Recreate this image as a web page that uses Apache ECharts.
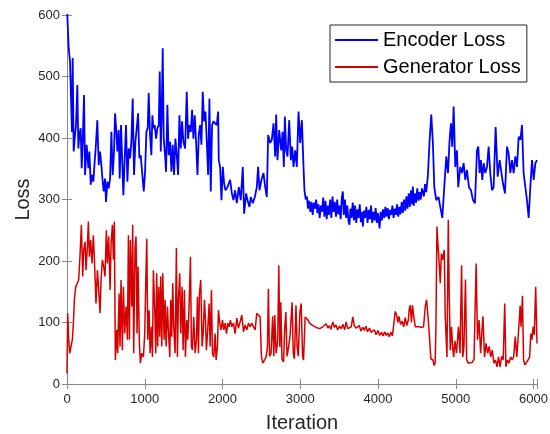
<!DOCTYPE html>
<html><head><meta charset="utf-8">
<script src="https://cdn.jsdelivr.net/npm/echarts@6/dist/echarts.min.js"></script>
<style>html,body{margin:0;padding:0;background:#fff}#c{width:550px;height:434px}</style>
</head><body><div id="c"></div>
<script>
const seriesNames = ['Encoder Loss', 'Generator Loss'];
const xTickValues = [0, 1000, 2000, 3000, 4000, 5000, 6000];
const yTickValues = [0, 100, 200, 300, 400, 500, 600];

// [iteration, loss]
const encoderLoss = [
[0,640],[4,600],[22,546],[39,524],[52,464],[64,410],[73,530],[86,378],[103,405],[116,421],[133,486],[146,383],[159,405],[176,416],[189,351],[202,394],[219,470],[232,340],[253,389],[275,351],[288,378],[305,324],[322,340],[339,329],[356,362],[369,383],[390,429],[408,356],[425,378],[442,356],[459,329],[472,313],[489,334],[502,296],[519,329],[536,318],[554,334],[571,410],[588,340],[605,378],[618,440],[635,410],[648,378],[665,413],[678,334],[695,421],[712,356],[725,307],[742,367],[759,421],[777,329],[794,383],[811,367],[828,394],[845,464],[862,340],[880,394],[897,416],[914,440],[931,367],[948,372],[966,345],[987,313],[1004,345],[1021,410],[1038,416],[1051,473],[1068,405],[1085,372],[1098,437],[1111,416],[1128,421],[1146,399],[1163,416],[1180,421],[1193,508],[1206,378],[1218,437],[1231,546],[1244,399],[1261,372],[1274,345],[1291,454],[1308,372],[1326,394],[1343,345],[1360,389],[1377,340],[1394,399],[1412,372],[1429,340],[1446,437],[1463,383],[1480,427],[1497,394],[1519,383],[1540,475],[1557,399],[1574,421],[1592,410],[1609,446],[1626,399],[1643,437],[1660,394],[1678,340],[1695,405],[1712,421],[1729,389],[1746,475],[1763,427],[1781,443],[1798,394],[1815,340],[1832,464],[1849,313],[1866,421],[1883,427],[1905,427],[1926,421],[1944,443],[1952,364],[1969,353],[1987,299],[2004,353],[2021,326],[2038,315],[2064,320],[2098,332],[2120,310],[2141,299],[2162,315],[2184,294],[2210,320],[2235,299],[2261,353],[2278,277],[2304,310],[2321,299],[2347,288],[2364,304],[2390,294],[2416,304],[2441,320],[2458,353],[2476,315],[2501,332],[2527,343],[2549,320],[2570,304],[2587,405],[2613,392],[2634,397],[2656,424],[2677,370],[2690,438],[2707,364],[2729,413],[2755,380],[2772,410],[2789,353],[2802,435],[2819,380],[2836,370],[2858,429],[2879,364],[2896,386],[2913,353],[2935,380],[2956,353],[2978,443],[2999,392],[3021,429],[3042,353],
[3054,315],[3070,300],[3085,305],[3100,285],[3115,298],[3130,280],[3145,296],[3160,275],[3175,295],[3190,285],[3205,300],[3220,278],[3235,292],[3250,270],[3265,290],[3280,280],[3295,303],[3310,272],[3325,298],[3340,268],[3355,290],[3370,275],[3385,300],[3400,270],[3415,305],[3430,280],[3445,296],[3460,272],[3475,300],[3490,276],[3505,290],[3520,268],[3535,304],[3548,313],[3560,275],[3575,300],[3590,270],[3605,290],[3620,265],[3633,259],[3645,285],[3660,270],[3675,295],[3690,266],[3705,290],[3720,262],[3735,284],[3750,270],[3765,292],[3780,263],[3795,280],[3805,256],[3820,282],[3835,270],[3850,288],[3865,262],[3880,283],[3895,268],[3910,290],[3925,262],[3940,280],[3955,266],[3970,286],[3985,262],[4000,278],[4020,253],[4035,280],[4050,266],[4065,284],[4080,270],[4095,288],[4110,272],[4125,286],[4140,268],[4155,283],[4170,275],[4185,290],[4200,270],[4215,285],[4230,275],[4245,292],[4260,272],[4275,288],[4290,276],[4305,296],[4320,278],[4335,300],[4350,282],[4365,305],[4380,285],[4395,310],[4410,288],[4425,315],[4440,292],[4449,321],[4460,290],[4475,310],[4490,295],[4505,318],[4520,298],[4535,312],[4550,300],[4565,318],[4577,315],[4590,305],[4605,325],[4620,312],[4635,330],[4642,340],
[4664,397],[4685,438],[4706,392],[4724,320],[4749,299],[4779,304],[4801,288],[4827,270],[4852,320],[4878,370],[4900,343],[4921,397],[4938,424],[4955,386],[4973,451],[4994,353],[5015,380],[5032,320],[5058,353],[5080,343],[5101,359],[5123,332],[5144,348],[5170,320],[5196,315],[5221,299],[5247,294],[5273,380],[5290,386],[5307,343],[5324,364],[5341,332],[5359,359],[5380,343],[5402,353],[5423,386],[5444,343],[5466,315],[5487,320],[5513,418],[5539,337],[5565,364],[5582,348],[5607,326],[5633,310],[5659,386],[5680,375],[5702,343],[5723,364],[5745,343],[5766,370],[5788,353],[5809,402],[5831,397],[5852,421],[5873,343],[5895,320],[5916,299],[5938,270],[5959,320],[5981,364],[6002,332],[6024,359],[6045,364]
];

const generatorLoss = [
[0,17],[9,115],[22,72],[35,50],[52,61],[69,72],[82,99],[95,137],[112,158],[133,161],[150,169],[168,210],[185,259],[202,175],[215,218],[232,231],[245,185],[262,223],[275,264],[288,207],[305,234],[322,196],[339,242],[356,191],[373,131],[391,185],[408,153],[425,115],[438,169],[455,202],[472,191],[489,175],[506,250],[519,196],[536,240],[554,153],[567,229],[584,259],[597,202],[609,264],[622,39],[640,88],[652,50],[670,147],[682,61],[695,169],[712,55],[725,158],[742,82],[760,126],[777,72],[790,242],[803,72],[815,234],[833,126],[845,259],[858,50],[875,223],[888,240],[901,82],[914,191],[931,66],[944,34],[961,50],[983,44],[1000,82],[1013,164],[1026,236],[1039,72],[1056,120],[1069,50],[1086,93],[1099,44],[1111,185],[1129,120],[1142,50],[1154,180],[1167,61],[1180,158],[1193,77],[1206,175],[1219,61],[1232,180],[1249,72],[1262,137],[1275,61],[1292,126],[1304,88],[1322,44],[1334,137],[1347,77],[1360,164],[1373,93],[1390,50],[1407,221],[1420,44],[1433,137],[1450,180],[1463,82],[1480,158],[1493,55],[1510,153],[1523,44],[1540,104],[1553,72],[1570,126],[1588,207],[1600,61],[1613,55],[1630,109],[1648,50],[1665,72],[1678,142],[1691,50],[1703,147],[1720,169],[1738,61],[1751,82],[1768,137],[1781,104],[1793,55],[1810,88],[1828,131],[1841,61],[1858,153],[1871,50],[1888,44],[1905,82],[1918,39],[1935,61],[1948,120],[1965,99],[1982,88],[2000,104],[2017,88],[2034,99],[2051,82],[2068,99],[2085,93],[2102,104],[2120,93],[2141,99],[2162,82],[2184,107],[2205,91],[2227,101],[2248,112],[2270,85],[2291,96],[2313,88],[2334,99],[2355,93],[2377,99],[2398,93],[2420,88],[2441,115],[2463,118],[2484,109],[2501,44],[2518,34],[2540,39],[2561,44],[2578,60],[2590,155],[2605,45],[2625,50],[2645,110],[2660,45],[2672,112],[2690,50],[2710,70],[2724,193],[2738,60],[2750,133],[2765,40],[2785,36],[2800,90],[2815,117],[2830,45],[2850,60],[2870,80],[2895,133],[2910,50],[2925,41],[2945,128],[2960,60],[2975,45],[2995,117],[3012,131],[3030,45],[3042,39],[3063,109],[3080,112],[3100,104],[3120,99],[3140,101],[3162,95],[3185,98],[3205,92],[3230,94],[3250,90],[3269,87],[3290,93],[3310,90],[3333,98],[3355,91],[3375,95],[3395,89],[3419,101],[3440,92],[3460,96],[3480,88],[3505,94],[3525,90],[3550,97],[3570,88],[3590,101],[3610,90],[3630,87],[3655,93],[3676,109],[3695,95],[3715,91],[3740,88],[3760,95],[3780,86],[3805,92],[3825,87],[3845,94],[3865,85],[3890,91],[3910,84],[3934,85],[3955,88],[3975,80],[4000,87],[4020,79],[4045,84],[4065,78],[4085,85],[4105,79],[4125,83],[4145,77],[4165,84],[4185,78],[4205,80],[4222,118],[4240,112],[4255,100],[4270,110],[4290,97],[4310,102],[4330,93],[4350,108],[4370,95],[4390,104],[4402,122],[4415,128],[4430,100],[4444,128],[4460,110],[4480,93],[4500,95],[4530,93],[4560,92],[4586,93],[4608,126],[4625,137],[4638,137],[4655,90],[4664,72],[4680,41],[4706,39],[4723,30],[4735,34],[4745,93],[4758,256],[4770,229],[4785,200],[4801,164],[4815,212],[4830,202],[4852,218],[4865,109],[4887,44],[4904,267],[4917,137],[4930,55],[4945,93],[4960,60],[4973,44],[4990,70],[5010,50],[5035,93],[5055,50],[5075,193],[5090,44],[5105,60],[5125,170],[5140,40],[5160,34],[5185,36],[5210,35],[5235,40],[5262,196],[5280,72],[5300,104],[5320,50],[5335,82],[5350,110],[5370,44],[5390,66],[5410,50],[5430,61],[5450,44],[5470,55],[5490,34],[5510,39],[5530,28],[5550,44],[5570,28],[5590,45],[5610,39],[5630,131],[5645,28],[5665,39],[5685,34],[5705,44],[5725,39],[5745,44],[5765,77],[5785,44],[5805,80],[5828,127],[5840,93],[5858,143],[5872,39],[5890,31],[5910,34],[5930,39],[5950,44],[5965,82],[5980,72],[5995,93],[6010,80],[6028,158],[6045,66]
];

const axisGray = '#8a8a8a';
const textGray = '#262626';
const font = 'Liberation Sans, Arial, Helvetica, sans-serif';

const chart = echarts.init(document.getElementById('c'), null, {renderer: 'canvas'});
chart.setOption({
  animation: false,
  backgroundColor: '#fff',
  grid: {left: 67, right: 13, top: 15, bottom: 50, containLabel: false, outerBoundsMode: 'none'},
  legend: {
    data: seriesNames,
    orient: 'vertical',
    left: 330, top: 25,
    padding: [5, 6, 5, 5],
    itemGap: 7,
    icon: 'rect',
    itemWidth: 43, itemHeight: 2,
    borderColor: '#262626', borderWidth: 1,
    backgroundColor: '#fff',
    textStyle: {fontSize: 20, color: '#000', fontFamily: font, lineHeight: 20}
  },
  xAxis: [{
    type: 'value', min: 0, max: 6045, interval: 1000,
    name: 'Iteration', nameLocation: 'middle', nameGap: 29, nameMoveOverlap: false,
    nameTextStyle: {fontSize: 20, color: textGray, fontFamily: font},
    axisLine: {show: true, lineStyle: {color: axisGray, width: 1}},
    axisTick: {show: true, inside: true, length: 5, lineStyle: {color: axisGray}},
    axisLabel: {fontSize: 13, color: textGray, fontFamily: font, margin: 9,
      formatter: v => (xTickValues.indexOf(v) >= 0 ? String(v) : '')},
    splitLine: {show: false}
  }, {
    type: 'value', position: 'top', min: 0, max: 6045, interval: 1000,
    axisLine: {show: true, lineStyle: {color: axisGray, width: 1}},
    axisTick: {show: true, inside: true, length: 5, lineStyle: {color: axisGray}},
    axisLabel: {show: false}, splitLine: {show: false}
  }],
  yAxis: [{
    type: 'value', min: 0, max: 600, interval: 100,
    name: 'Loss', nameLocation: 'middle', nameGap: 34, nameRotate: 90, nameMoveOverlap: false,
    nameTextStyle: {fontSize: 20, color: textGray, fontFamily: font},
    axisLine: {show: true, lineStyle: {color: axisGray, width: 1}},
    axisTick: {show: true, inside: true, length: 5, lineStyle: {color: axisGray}},
    axisLabel: {fontSize: 13, color: textGray, fontFamily: font, margin: 7,
      formatter: v => (yTickValues.indexOf(v) >= 0 ? String(v) : '')},
    splitLine: {show: false}
  }, {
    type: 'value', position: 'right', min: 0, max: 600, interval: 100,
    axisLine: {show: true, lineStyle: {color: axisGray, width: 1}},
    axisTick: {show: true, inside: true, length: 5, lineStyle: {color: axisGray}},
    axisLabel: {show: false}, splitLine: {show: false}
  }],
  series: [{
    name: seriesNames[0], type: 'line', xAxisIndex: 0, yAxisIndex: 0,
    data: encoderLoss, symbol: 'none', clip: true,
    lineStyle: {color: '#0000ff', width: 1.8}, itemStyle: {color: '#0000ff'}
  }, {
    name: seriesNames[1], type: 'line', xAxisIndex: 0, yAxisIndex: 0,
    data: generatorLoss, symbol: 'none', clip: true,
    lineStyle: {color: '#d70000', width: 1.5}, itemStyle: {color: '#d70000'}
  }]
});
</script>
</body></html>
